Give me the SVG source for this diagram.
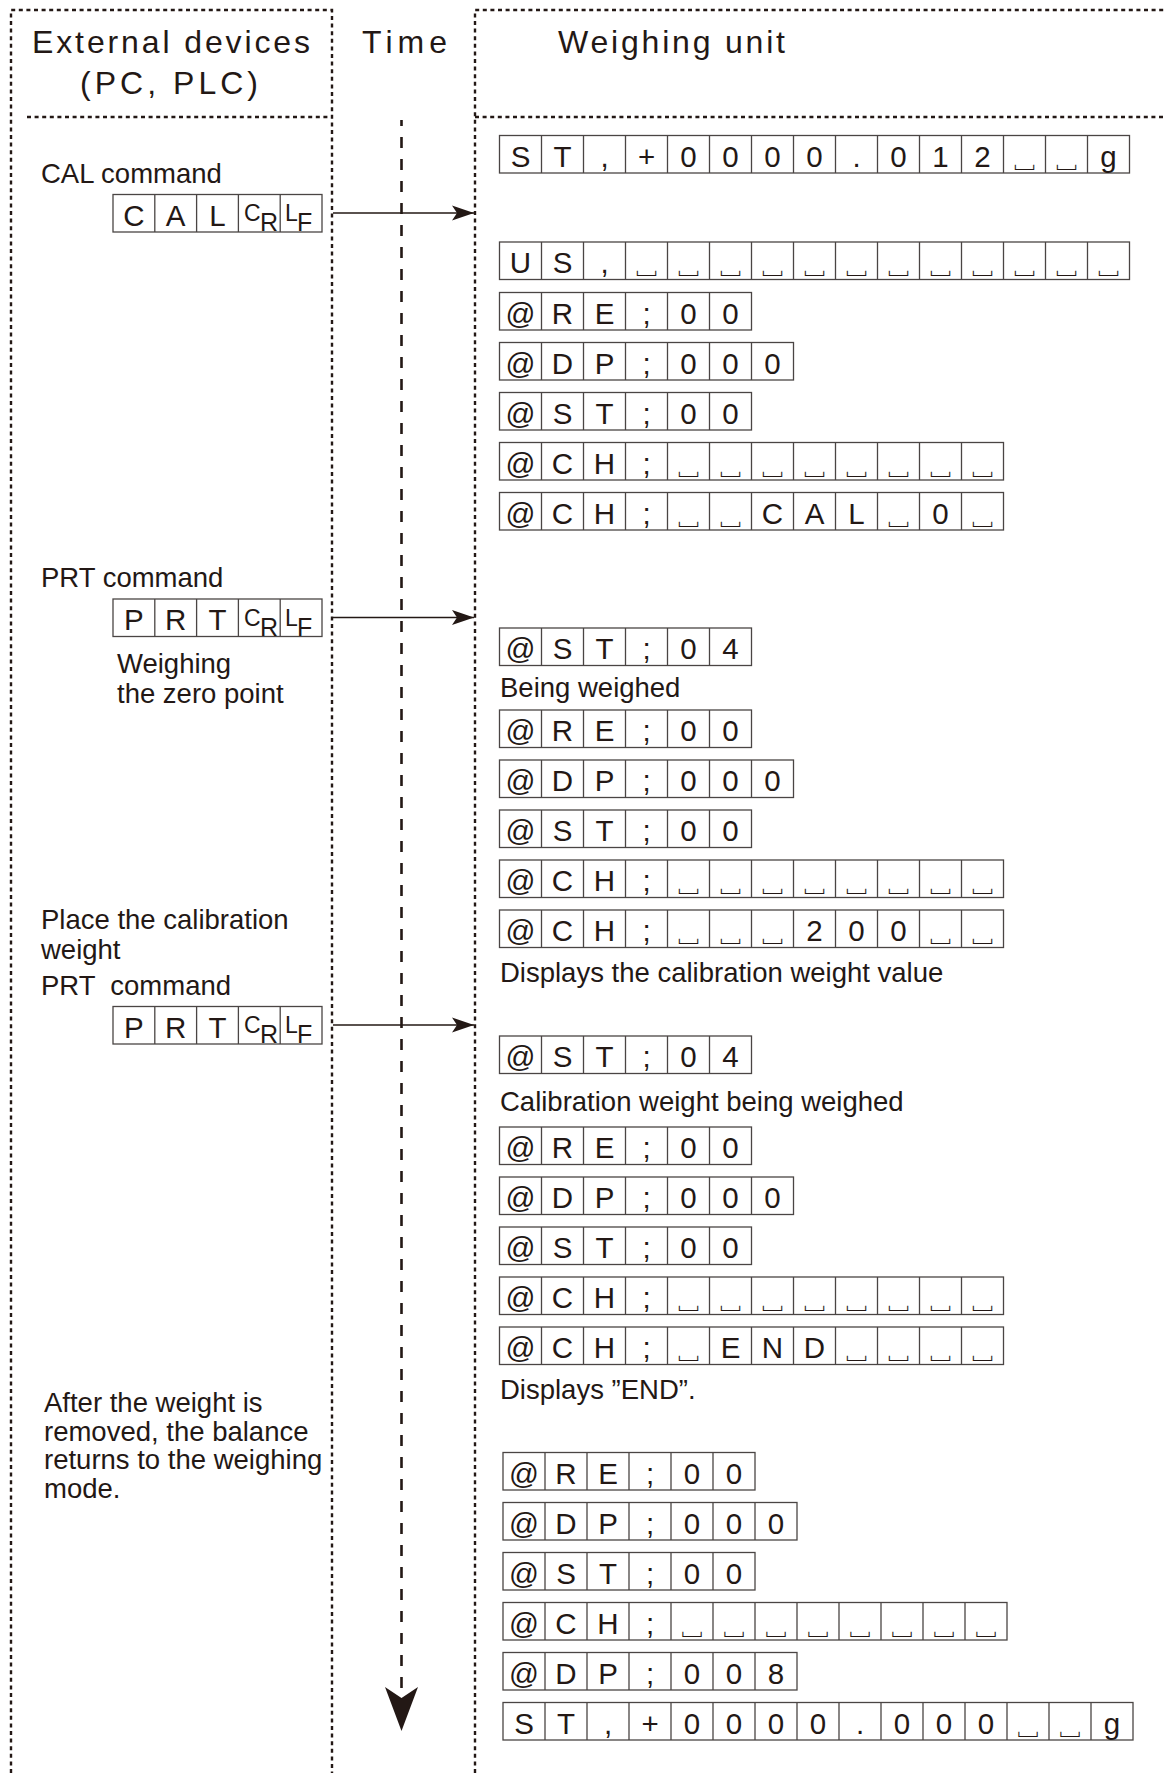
<svg xmlns="http://www.w3.org/2000/svg" width="1164" height="1773" viewBox="0 0 1164 1773">
<style>
.bd{fill:none;stroke:#231815;stroke-width:2.4;stroke-dasharray:4 3.6}
.c{fill:#fff;stroke:#4a4544;stroke-width:1.3}
.d{fill:none;stroke:#4a4544;stroke-width:1.3}
.k{font-family:"Liberation Sans",Arial,sans-serif;font-size:29.5px;fill:#231815;text-anchor:middle}
.s{font-family:"Noto Sans CJK JP","DejaVu Sans",sans-serif;font-size:26px;fill:#231815;text-anchor:middle}
.l{font-family:"Liberation Sans",Arial,sans-serif;font-size:27.5px;fill:#231815}
.h{font-family:"Liberation Sans",Arial,sans-serif;font-size:32px;fill:#231815}
.sm{font-family:"Liberation Sans",Arial,sans-serif;font-size:23px;fill:#231815}
.sb{font-family:"Liberation Sans",Arial,sans-serif;font-size:25px;fill:#231815}
.ar{fill:none;stroke:#231815;stroke-width:1.4}
.tl{fill:none;stroke:#231815;stroke-width:2.6;stroke-dasharray:11 11}
</style>
<defs>
<marker id="ah" viewBox="0 0 22 16" refX="22" refY="8" markerWidth="22" markerHeight="16" markerUnits="userSpaceOnUse" orient="auto">
<path d="M0 0.5L22 8L0 15.5L5 8Z" fill="#231815"/>
</marker>
</defs>
<rect width="1164" height="1773" fill="#fff"/>

<g id="frames">
<path class="bd" d="M11 1773V10H332V1773"/>
<path class="bd" d="M27 117H330"/>
<path class="bd" d="M475 1773V10H1164"/>
<path class="bd" d="M475 117H1164"/>
</g>

<g id="headers">
<text class="h" x="32" y="53" textLength="278" lengthAdjust="spacing">External devices</text>
<text class="h" x="80" y="94" textLength="178" lengthAdjust="spacing">(PC, PLC)</text>
<text class="h" x="362" y="53" textLength="85" lengthAdjust="spacing">Time</text>
<text class="h" x="558" y="53" textLength="227" lengthAdjust="spacing">Weighing unit</text>
</g>

<g id="connectors">
<path class="tl" d="M401.5 1688V120"/>
<path d="M385 1687L401.5 1731L418 1687L401.5 1698Z" fill="#231815"/>
<path class="ar" d="M333 213H474" marker-end="url(#ah)"/>
<path class="ar" d="M333 617.5H474" marker-end="url(#ah)"/>
<path class="ar" d="M333 1025H474" marker-end="url(#ah)"/>
</g>

<g id="left-labels">
<text class="l" x="41" y="183">CAL command</text>
<text class="l" x="41" y="587">PRT command</text>
<text class="l" x="117" y="673">Weighing</text>
<text class="l" x="117" y="703">the zero point</text>
<text class="l" x="41" y="929">Place the calibration</text>
<text class="l" x="41" y="959">weight</text>
<text class="l" x="41" y="995" xml:space="preserve">PRT  command</text>
<text class="l" x="44" y="1412">After the weight is</text>
<text class="l" x="44" y="1440.5">removed, the balance</text>
<text class="l" x="44" y="1469">returns to the weighing</text>
<text class="l" x="44" y="1498">mode.</text>
</g>

<g id="cmd-cal">
<rect class="c" x="113" y="194.5" width="209" height="37.5"/>
<path class="d" d="M154.8 194.5v37.5m41.8-37.5v37.5m41.8-37.5v37.5m41.8-37.5v37.5"/>
<text class="k" x="133.9 175.7 217.5" y="225.5">CAL</text>
<text class="sm" x="244" y="221">C</text><text class="sb" x="260" y="231">R</text>
<text class="sm" x="285" y="221">L</text><text class="sb" x="297" y="231">F</text>
</g>
<g id="cmd-prt1">
<rect class="c" x="113" y="599" width="209" height="37.5"/>
<path class="d" d="M154.8 599v37.5m41.8-37.5v37.5m41.8-37.5v37.5m41.8-37.5v37.5"/>
<text class="k" x="133.9 175.7 217.5" y="630">PRT</text>
<text class="sm" x="244" y="625.5">C</text><text class="sb" x="260" y="635.5">R</text>
<text class="sm" x="285" y="625.5">L</text><text class="sb" x="297" y="635.5">F</text>
</g>
<g id="cmd-prt2">
<rect class="c" x="113" y="1006.5" width="209" height="37.5"/>
<path class="d" d="M154.8 1006.5v37.5m41.8-37.5v37.5m41.8-37.5v37.5m41.8-37.5v37.5"/>
<text class="k" x="133.9 175.7 217.5" y="1037.5">PRT</text>
<text class="sm" x="244" y="1033">C</text><text class="sb" x="260" y="1043">R</text>
<text class="sm" x="285" y="1033">L</text><text class="sb" x="297" y="1043">F</text>
</g>

<g id="rA1">
<rect class="c" x="499.5" y="135.5" width="630" height="37.5"/>
<path class="d" d="M541.5 135.5v37.5m42-37.5v37.5m42-37.5v37.5m42-37.5v37.5m42-37.5v37.5m42-37.5v37.5m42-37.5v37.5m42-37.5v37.5m42-37.5v37.5m42-37.5v37.5m42-37.5v37.5m42-37.5v37.5m42-37.5v37.5m42-37.5v37.5"/>
<text class="k" x="520.5 562.5 604.5 646.5 688.5 730.5 772.5 814.5 856.5 898.5 940.5 982.5" y="166.5">ST,+0000.012</text>
<text class="s" x="1024.5 1066.5" y="166.5">␣␣</text>
<text class="k" x="1108.5" y="166.5">g</text>
</g>
<g id="rA2">
<rect class="c" x="499.5" y="242" width="630" height="37.5"/>
<path class="d" d="M541.5 242v37.5m42-37.5v37.5m42-37.5v37.5m42-37.5v37.5m42-37.5v37.5m42-37.5v37.5m42-37.5v37.5m42-37.5v37.5m42-37.5v37.5m42-37.5v37.5m42-37.5v37.5m42-37.5v37.5m42-37.5v37.5m42-37.5v37.5"/>
<text class="k" x="520.5 562.5 604.5" y="273">US,</text>
<text class="s" x="646.5 688.5 730.5 772.5 814.5 856.5 898.5 940.5 982.5 1024.5 1066.5 1108.5" y="273">␣␣␣␣␣␣␣␣␣␣␣␣</text>
</g>
<g id="rA3">
<rect class="c" x="499.5" y="292.5" width="252" height="37.5"/>
<path class="d" d="M541.5 292.5v37.5m42-37.5v37.5m42-37.5v37.5m42-37.5v37.5m42-37.5v37.5"/>
<text class="k" x="520.5 562.5 604.5 646.5 688.5 730.5" y="323.5">@RE;00</text>
</g>
<g id="rA4">
<rect class="c" x="499.5" y="342.5" width="294" height="37.5"/>
<path class="d" d="M541.5 342.5v37.5m42-37.5v37.5m42-37.5v37.5m42-37.5v37.5m42-37.5v37.5m42-37.5v37.5"/>
<text class="k" x="520.5 562.5 604.5 646.5 688.5 730.5 772.5" y="373.5">@DP;000</text>
</g>
<g id="rA5">
<rect class="c" x="499.5" y="392.5" width="252" height="37.5"/>
<path class="d" d="M541.5 392.5v37.5m42-37.5v37.5m42-37.5v37.5m42-37.5v37.5m42-37.5v37.5"/>
<text class="k" x="520.5 562.5 604.5 646.5 688.5 730.5" y="423.5">@ST;00</text>
</g>
<g id="rA6">
<rect class="c" x="499.5" y="442.5" width="504" height="37.5"/>
<path class="d" d="M541.5 442.5v37.5m42-37.5v37.5m42-37.5v37.5m42-37.5v37.5m42-37.5v37.5m42-37.5v37.5m42-37.5v37.5m42-37.5v37.5m42-37.5v37.5m42-37.5v37.5m42-37.5v37.5"/>
<text class="k" x="520.5 562.5 604.5 646.5" y="473.5">@CH;</text>
<text class="s" x="688.5 730.5 772.5 814.5 856.5 898.5 940.5 982.5" y="473.5">␣␣␣␣␣␣␣␣</text>
</g>
<g id="rA7">
<rect class="c" x="499.5" y="492.5" width="504" height="37.5"/>
<path class="d" d="M541.5 492.5v37.5m42-37.5v37.5m42-37.5v37.5m42-37.5v37.5m42-37.5v37.5m42-37.5v37.5m42-37.5v37.5m42-37.5v37.5m42-37.5v37.5m42-37.5v37.5m42-37.5v37.5"/>
<text class="k" x="520.5 562.5 604.5 646.5" y="523.5">@CH;</text>
<text class="s" x="688.5 730.5" y="523.5">␣␣</text>
<text class="k" x="772.5 814.5 856.5" y="523.5">CAL</text>
<text class="s" x="898.5" y="523.5">␣</text>
<text class="k" x="940.5" y="523.5">0</text>
<text class="s" x="982.5" y="523.5">␣</text>
</g>

<g id="rB1">
<rect class="c" x="499.5" y="628" width="252" height="37.5"/>
<path class="d" d="M541.5 628v37.5m42-37.5v37.5m42-37.5v37.5m42-37.5v37.5m42-37.5v37.5"/>
<text class="k" x="520.5 562.5 604.5 646.5 688.5 730.5" y="659">@ST;04</text>
</g>
<text class="l" x="500" y="697">Being weighed</text>
<g id="rB2">
<rect class="c" x="499.5" y="710" width="252" height="37.5"/>
<path class="d" d="M541.5 710v37.5m42-37.5v37.5m42-37.5v37.5m42-37.5v37.5m42-37.5v37.5"/>
<text class="k" x="520.5 562.5 604.5 646.5 688.5 730.5" y="741">@RE;00</text>
</g>
<g id="rB3">
<rect class="c" x="499.5" y="760" width="294" height="37.5"/>
<path class="d" d="M541.5 760v37.5m42-37.5v37.5m42-37.5v37.5m42-37.5v37.5m42-37.5v37.5m42-37.5v37.5"/>
<text class="k" x="520.5 562.5 604.5 646.5 688.5 730.5 772.5" y="791">@DP;000</text>
</g>
<g id="rB4">
<rect class="c" x="499.5" y="810" width="252" height="37.5"/>
<path class="d" d="M541.5 810v37.5m42-37.5v37.5m42-37.5v37.5m42-37.5v37.5m42-37.5v37.5"/>
<text class="k" x="520.5 562.5 604.5 646.5 688.5 730.5" y="841">@ST;00</text>
</g>
<g id="rB5">
<rect class="c" x="499.5" y="860" width="504" height="37.5"/>
<path class="d" d="M541.5 860v37.5m42-37.5v37.5m42-37.5v37.5m42-37.5v37.5m42-37.5v37.5m42-37.5v37.5m42-37.5v37.5m42-37.5v37.5m42-37.5v37.5m42-37.5v37.5m42-37.5v37.5"/>
<text class="k" x="520.5 562.5 604.5 646.5" y="891">@CH;</text>
<text class="s" x="688.5 730.5 772.5 814.5 856.5 898.5 940.5 982.5" y="891">␣␣␣␣␣␣␣␣</text>
</g>
<g id="rB6">
<rect class="c" x="499.5" y="910" width="504" height="37.5"/>
<path class="d" d="M541.5 910v37.5m42-37.5v37.5m42-37.5v37.5m42-37.5v37.5m42-37.5v37.5m42-37.5v37.5m42-37.5v37.5m42-37.5v37.5m42-37.5v37.5m42-37.5v37.5m42-37.5v37.5"/>
<text class="k" x="520.5 562.5 604.5 646.5" y="941">@CH;</text>
<text class="s" x="688.5 730.5 772.5" y="941">␣␣␣</text>
<text class="k" x="814.5 856.5 898.5" y="941">200</text>
<text class="s" x="940.5 982.5" y="941">␣␣</text>
</g>
<text class="l" x="500" y="982">Displays the calibration weight value</text>

<g id="rC1">
<rect class="c" x="499.5" y="1036" width="252" height="37.5"/>
<path class="d" d="M541.5 1036v37.5m42-37.5v37.5m42-37.5v37.5m42-37.5v37.5m42-37.5v37.5"/>
<text class="k" x="520.5 562.5 604.5 646.5 688.5 730.5" y="1067">@ST;04</text>
</g>
<text class="l" x="500" y="1111">Calibration weight being weighed</text>
<g id="rC2">
<rect class="c" x="499.5" y="1127" width="252" height="37.5"/>
<path class="d" d="M541.5 1127v37.5m42-37.5v37.5m42-37.5v37.5m42-37.5v37.5m42-37.5v37.5"/>
<text class="k" x="520.5 562.5 604.5 646.5 688.5 730.5" y="1158">@RE;00</text>
</g>
<g id="rC3">
<rect class="c" x="499.5" y="1177" width="294" height="37.5"/>
<path class="d" d="M541.5 1177v37.5m42-37.5v37.5m42-37.5v37.5m42-37.5v37.5m42-37.5v37.5m42-37.5v37.5"/>
<text class="k" x="520.5 562.5 604.5 646.5 688.5 730.5 772.5" y="1208">@DP;000</text>
</g>
<g id="rC4">
<rect class="c" x="499.5" y="1227" width="252" height="37.5"/>
<path class="d" d="M541.5 1227v37.5m42-37.5v37.5m42-37.5v37.5m42-37.5v37.5m42-37.5v37.5"/>
<text class="k" x="520.5 562.5 604.5 646.5 688.5 730.5" y="1258">@ST;00</text>
</g>
<g id="rC5">
<rect class="c" x="499.5" y="1277" width="504" height="37.5"/>
<path class="d" d="M541.5 1277v37.5m42-37.5v37.5m42-37.5v37.5m42-37.5v37.5m42-37.5v37.5m42-37.5v37.5m42-37.5v37.5m42-37.5v37.5m42-37.5v37.5m42-37.5v37.5m42-37.5v37.5"/>
<text class="k" x="520.5 562.5 604.5 646.5" y="1308">@CH;</text>
<text class="s" x="688.5 730.5 772.5 814.5 856.5 898.5 940.5 982.5" y="1308">␣␣␣␣␣␣␣␣</text>
</g>
<g id="rC6">
<rect class="c" x="499.5" y="1327" width="504" height="37.5"/>
<path class="d" d="M541.5 1327v37.5m42-37.5v37.5m42-37.5v37.5m42-37.5v37.5m42-37.5v37.5m42-37.5v37.5m42-37.5v37.5m42-37.5v37.5m42-37.5v37.5m42-37.5v37.5m42-37.5v37.5"/>
<text class="k" x="520.5 562.5 604.5 646.5" y="1358">@CH;</text>
<text class="s" x="688.5" y="1358">␣</text>
<text class="k" x="730.5 772.5 814.5" y="1358">END</text>
<text class="s" x="856.5 898.5 940.5 982.5" y="1358">␣␣␣␣</text>
</g>
<text class="l" x="500" y="1399">Displays ”END”.</text>

<g id="rD1">
<rect class="c" x="503" y="1452.5" width="252" height="37.5"/>
<path class="d" d="M545 1452.5v37.5m42-37.5v37.5m42-37.5v37.5m42-37.5v37.5m42-37.5v37.5"/>
<text class="k" x="524 566 608 650 692 734" y="1483.5">@RE;00</text>
</g>
<g id="rD2">
<rect class="c" x="503" y="1502.5" width="294" height="37.5"/>
<path class="d" d="M545 1502.5v37.5m42-37.5v37.5m42-37.5v37.5m42-37.5v37.5m42-37.5v37.5m42-37.5v37.5"/>
<text class="k" x="524 566 608 650 692 734 776" y="1533.5">@DP;000</text>
</g>
<g id="rD3">
<rect class="c" x="503" y="1552.5" width="252" height="37.5"/>
<path class="d" d="M545 1552.5v37.5m42-37.5v37.5m42-37.5v37.5m42-37.5v37.5m42-37.5v37.5"/>
<text class="k" x="524 566 608 650 692 734" y="1583.5">@ST;00</text>
</g>
<g id="rD4">
<rect class="c" x="503" y="1602.5" width="504" height="37.5"/>
<path class="d" d="M545 1602.5v37.5m42-37.5v37.5m42-37.5v37.5m42-37.5v37.5m42-37.5v37.5m42-37.5v37.5m42-37.5v37.5m42-37.5v37.5m42-37.5v37.5m42-37.5v37.5m42-37.5v37.5"/>
<text class="k" x="524 566 608 650" y="1633.5">@CH;</text>
<text class="s" x="692 734 776 818 860 902 944 986" y="1633.5">␣␣␣␣␣␣␣␣</text>
</g>
<g id="rD5">
<rect class="c" x="503" y="1652.5" width="294" height="37.5"/>
<path class="d" d="M545 1652.5v37.5m42-37.5v37.5m42-37.5v37.5m42-37.5v37.5m42-37.5v37.5m42-37.5v37.5"/>
<text class="k" x="524 566 608 650 692 734 776" y="1683.5">@DP;008</text>
</g>
<g id="rD6">
<rect class="c" x="503" y="1702.5" width="630" height="37.5"/>
<path class="d" d="M545 1702.5v37.5m42-37.5v37.5m42-37.5v37.5m42-37.5v37.5m42-37.5v37.5m42-37.5v37.5m42-37.5v37.5m42-37.5v37.5m42-37.5v37.5m42-37.5v37.5m42-37.5v37.5m42-37.5v37.5m42-37.5v37.5m42-37.5v37.5"/>
<text class="k" x="524 566 608 650 692 734 776 818 860 902 944 986" y="1733.5">ST,+0000.000</text>
<text class="s" x="1028 1070" y="1733.5">␣␣</text>
<text class="k" x="1112" y="1733.5">g</text>
</g>
</svg>
